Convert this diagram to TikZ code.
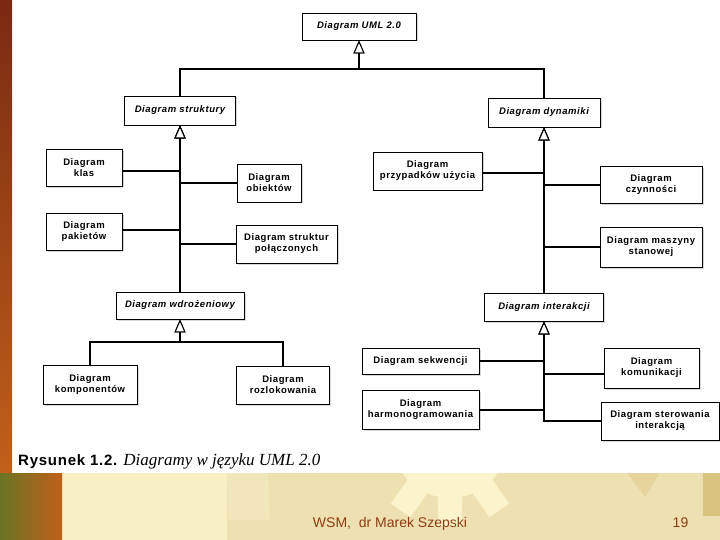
\documentclass[tikz,border=0pt]{standalone}
\usepackage{fontspec}
\setmainfont{Liberation Sans}
\newfontfamily\boxfont[LetterSpace=6]{Liberation Sans}
\newfontfamily\capsans[LetterSpace=5]{Liberation Sans}
\newfontfamily\capserif{Liberation Serif}
\usetikzlibrary{arrows.meta,shadows}
\definecolor{bandc}{HTML}{EEE0B0}
\definecolor{gearc}{HTML}{FAF3CC}
\definecolor{lightc}{HTML}{F8F0C4}
\definecolor{toothc}{HTML}{F2E7BA}
\definecolor{goldc}{HTML}{D8C47E}
\definecolor{wedgec}{HTML}{E6D49C}
\definecolor{footc}{HTML}{8E3E12}
\definecolor{stripA}{HTML}{7A2A12}
\definecolor{stripB}{HTML}{C0601A}
\definecolor{stripC}{HTML}{6A7424}
\tikzset{
  box/.style={draw=black, line width=0.9pt, fill=white, align=center, inner sep=1pt,
    font=\boxfont\bfseries\fontsize{9.5}{11}\selectfont,
    drop shadow={shadow xshift=1.5pt, shadow yshift=-1.5pt, fill=black!30}},
  abox/.style={box, font=\boxfont\bfseries\itshape\fontsize{9.5}{11}\selectfont},
  gen/.style={line width=1.5pt, -{Triangle[length=13pt,width=11pt,fill=white,line width=1pt]}}
}
\begin{document}
\begin{tikzpicture}[x=1pt,y=-1pt]
\useasboundingbox (0,0) rectangle (720,540);
% backgrounds
\fill[white] (0,0) rectangle (720,473);
\fill[bandc] (0,473) rectangle (720,540);
\begin{scope}
  \clip (62,473) rectangle (720,540);
  \fill[lightc] (62,473) rectangle (227,540);
  \fill[toothc] (227,473) -- (268,473) -- (270,520) -- (229,520) -- cycle;
  \fill[gearc] (450,440) circle (58);
  \foreach \a in {-55,-90,-125} {
    \fill[gearc, rotate around={\a:(450,440)}] (500,428) rectangle (536,452);
  }
  \fill[wedgec] (627,473) -- (660,473) -- (645,497) -- cycle;
  \fill[goldc] (703,473) rectangle (720,516);
\end{scope}
\shade[top color=stripA, bottom color=stripB] (0,0) rectangle (12,473);
\shade[left color=stripC, right color=stripB] (0,473) rectangle (62,540);

% top
\node[abox, minimum width=114pt, minimum height=27pt] (uml) at (359,26.5) {Diagram UML 2.0};
\node[abox, minimum width=111pt, minimum height=29pt] (struk) at (180,110.5) {Diagram struktury};
\node[abox, minimum width=112pt, minimum height=29pt] (dyn) at (544,112.5) {Diagram dynamiki};
\coordinate (topbus) at (359,69);
\draw[gen] (struk.north) |- (topbus) -- (uml.south);
\draw[gen] (dyn.north) |- (topbus) -- (uml.south);

% structure branch
\node[box, minimum width=76pt, minimum height=37pt] (klas) at (84,168) {Diagram\\klas};
\node[box, minimum width=64pt, minimum height=38pt] (obj) at (269,183) {Diagram\\obiektów};
\node[box, minimum width=76pt, minimum height=37pt] (pak) at (84,232) {Diagram\\pakietów};
\node[box, minimum width=101pt, minimum height=38pt] (poll) at (286.5,244) {Diagram struktur\\połączonych};
\node[abox, minimum width=128pt, minimum height=27pt] (wdr) at (180,305.5) {Diagram wdrożeniowy};
\draw[gen] ([yshift=-3pt]klas.east) -| (struk.south);
\draw[gen] (obj.west) -| (struk.south);
\draw[gen] ([yshift=2pt]pak.east) -| (struk.south);
\draw[gen] (poll.west) -| (struk.south);
\draw[gen] (wdr.north) -- (struk.south);

% deployment branch
\node[box, minimum width=94pt, minimum height=39pt] (komp) at (90,384.5) {Diagram\\komponentów};
\node[box, minimum width=93pt, minimum height=38pt] (rozl) at (283,385) {Diagram\\rozlokowania};
\coordinate (wbus) at (180,342);
\draw[gen] (komp.north) |- (wbus) -- (wdr.south);
\draw[gen] (rozl.north) |- (wbus) -- (wdr.south);

% dynamics branch
\node[box, minimum width=109pt, minimum height=38pt] (przyp) at (427.5,171) {Diagram\\przypadków użycia};
\node[box, minimum width=102pt, minimum height=37pt] (czyn) at (651,185) {Diagram\\czynności};
\node[box, minimum width=102pt, minimum height=40pt] (masz) at (651,247) {Diagram maszyny\\stanowej};
\node[abox, minimum width=119pt, minimum height=28pt] (inter) at (544,307) {Diagram interakcji};
\draw[gen] ([yshift=-2pt]przyp.east) -| (dyn.south);
\draw[gen] (czyn.west) -| (dyn.south);
\draw[gen] (masz.west) -| (dyn.south);
\draw[gen] (inter.north) -- (dyn.south);

% interaction branch
\node[box, minimum width=117pt, minimum height=26pt] (sekw) at (420.5,361) {Diagram sekwencji};
\node[box, minimum width=117pt, minimum height=39pt] (harm) at (420.5,410) {Diagram\\harmonogramowania};
\node[box, minimum width=95pt, minimum height=40pt] (komu) at (651.5,368) {Diagram\\komunikacji};
\node[box, minimum width=118pt, minimum height=38pt] (ster) at (660,421) {Diagram sterowania\\interakcją};
\draw[gen] (sekw.east) -| (inter.south);
\draw[gen] (harm.east) -| (inter.south);
\draw[gen] ([yshift=-6pt]komu.west) -| (inter.south);
\draw[gen] (ster.west) -| (inter.south);

% caption
\node[anchor=base west, inner sep=0pt] (cap) at (18,465)
  {{\capsans\bfseries\fontsize{15}{17}\selectfont Rysunek 1.2.}\hspace{6pt}{\capserif\itshape\fontsize{17}{19}\selectfont Diagramy w języku UML 2.0}};

% footer
\node[anchor=base, inner sep=0pt, text=footc, font=\fontsize{14}{16}\selectfont] (foot) at (390,527) {WSM,\ \ dr Marek Szepski};
\node[anchor=base, inner sep=0pt, text=footc, font=\fontsize{14}{16}\selectfont] (page) at (680.5,527) {19};
\end{tikzpicture}
\end{document}
